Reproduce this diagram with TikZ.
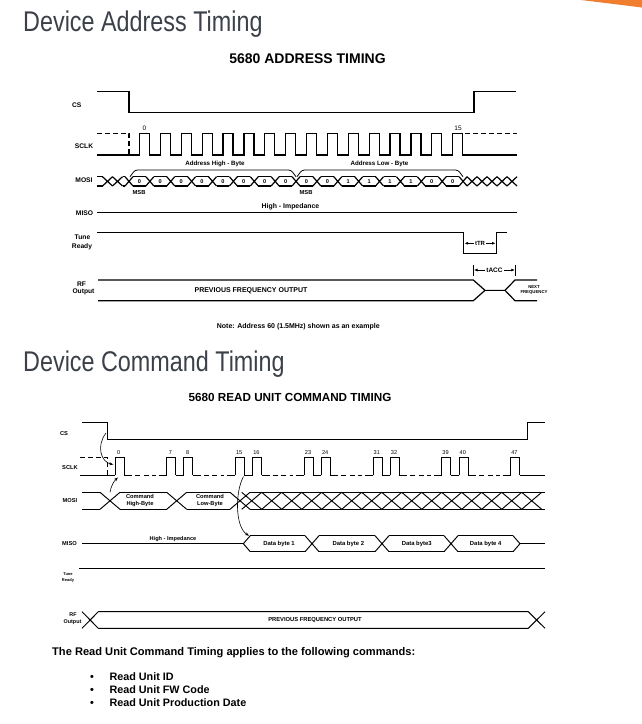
\documentclass[tikz,border=0pt]{standalone}
\usepackage{fontspec}
\setmainfont{Liberation Sans}
\newfontfamily\titlefont[FakeStretch=0.82]{Liberation Sans}
\usetikzlibrary{arrows.meta}
\definecolor{titlegray}{HTML}{3C4149}
\definecolor{accent}{HTML}{F07E2E}
\newcommand\fsz[1]{\fontsize{#1}{#1}\selectfont}
\begin{document}
\begin{tikzpicture}[x=1pt,y=-1pt,
  sig/.style={line width=1.2pt},
  sigb/.style={line width=0.95pt},
  dsh/.style={dash pattern=on 5pt off 3pt},
  txt/.style={inner sep=0pt},
  title/.style={txt, anchor=base west, text=titlegray, font=\titlefont\fsz{28.5}},
  lblA/.style={txt, font=\bfseries\fsz{6.7}},
  lblB/.style={txt, font=\bfseries\fsz{5.7}},
  tip/.style={-{Latex[length=3.5pt,width=3pt]}},
  ctip/.style={-{Stealth[length=4pt,width=3pt]}, line width=0.6pt},
]
\useasboundingbox (0,0) rectangle (642,724);
\fill[accent] (581,0) -- (642,0) -- (642,7.5) -- cycle;

% ================= TOP =================
\node[title] (t1) at (23,31.7) {Device Address Timing};
\node[txt, anchor=base, font=\bfseries\fsz{14}] (t1s) at (307.5,63.3) {5680 ADDRESS TIMING};

\node[lblA] (csA) at (76.7,105) {CS};
\node[lblA] (sclkA) at (84,145.7) {SCLK};
\node[lblA] (mosiA) at (84,180.5) {MOSI};
\node[lblA] (misoA) at (84.5,213.5) {MISO};
\node[lblA] (tuneA) at (82.5,237.5) {Tune};
\node[lblA] (readyA) at (82,246.7) {Ready};
\node[lblA] (rfA) at (81.5,284.5) {RF};
\node[lblA] (outA) at (83.5,292) {Output};

% CS
\draw[sig] (97,91.7) -- (129,91.7) -- (129,112.3) -- (474,112.3) -- (474,91.7) -- (516,91.7);
% SCLK
\draw[sig, dsh] (97,133.3) -- (129,133.3) -- (129,155);
\draw[sig] (97,155) \foreach \k [evaluate=\k as \p using 139.5+20.88*\k] in {0,...,15} { -- (\p,155) -- (\p,133.3) -- ({\p+10},133.3) -- ({\p+10},155) } -- (517,155);
\draw[sig, dsh] (465,133.3) -- (517,133.3);
\node[txt, font=\fsz{6.5}] (n0) at (144.5,128.3) {0};
\node[txt, font=\fsz{6.5}] (n15) at (458,128.3) {15};

% MOSI
\foreach \c in {107.5,117.5,472,482,492,502,512}{
  \draw[sig] ({\c-5},176.7) -- ({\c+5},186) ({\c-5},186) -- ({\c+5},176.7);}
\draw[sig] (97,176.7) -- (102.5,176.7) (97,186) -- (102.5,186)
           (122.5,176.7) -- (125,176.7) (122.5,186) -- (125,186);
\foreach \k in {0,...,16}{
  \pgfmathsetmacro\t{129+20.88*\k}
  \draw[sig] ({\t-4},176.7) -- ({\t+4},186) ({\t-4},186) -- ({\t+4},176.7);}
\foreach \k in {0,...,15}{
  \pgfmathsetmacro\a{129+20.88*\k+4}
  \pgfmathsetmacro\b{129+20.88*(\k+1)-4}
  \draw[sig] (\a,176.7) -- (\b,176.7) (\a,186) -- (\b,186);}
\foreach \k/\d in {0/0,1/0,2/0,3/0,4/0,5/0,6/0,7/0,8/0,9/0,10/1,11/1,12/1,13/1,14/0,15/0}{
  \node[txt, font=\bfseries\fsz{5.6}] (dg\k) at ({139.4+20.88*\k},181.5) {\d};}
\node[txt, font=\bfseries\fsz{5.8}] (msb1) at (139,192.3) {MSB};
\node[txt, font=\bfseries\fsz{5.8}] (msb2) at (306,192.3) {MSB};
\draw[line width=0.8pt, rounded corners=2.5pt] (130,176.7) -- (135,170) -- (291,170) -- (296,176.7);
\draw[line width=0.8pt, rounded corners=2.5pt] (297,176.7) -- (302,170) -- (458,170) -- (463,176.7);
\node[txt, font=\bfseries\fsz{6.2}] (ahb) at (215,164) {Address High - Byte};
\node[txt, font=\bfseries\fsz{6.2}] (alb) at (379.5,164) {Address Low - Byte};

% MISO
\draw[sig] (97,212.3) -- (517,212.3);
\node[txt, font=\bfseries\fsz{6.9}] (hiA) at (290.5,206.5) {High - Impedance};

% Tune Ready
\draw[sig] (97,232.7) -- (463.3,232.7) -- (463.3,253.3) -- (496.7,253.3) -- (496.7,232.7) -- (506.7,232.7);
\node[txt, font=\bfseries\fsz{6}] (ttr) at (480,243.3) {tTR};
\coordinate (trL) at (464.5,243.3);
\coordinate (trR) at (495.5,243.3);
\draw[tip, line width=0.8pt] (ttr.west) ++(-1,0) -- (trL);
\draw[tip, line width=0.8pt] (ttr.east) ++(1,0) -- (trR);

% tACC
\draw[line width=0.9pt] (473.3,264.5) -- (473.3,275.5) (515.5,264.5) -- (515.5,275.5);
\node[txt, font=\bfseries\fsz{6.5}] (tacc) at (494.5,270) {tACC};
\coordinate (acL) at (474,270);
\coordinate (acR) at (514.8,270);
\draw[tip, line width=0.8pt] (tacc.west) ++(-1.5,0) -- (acL);
\draw[tip, line width=0.8pt] (tacc.east) ++(1.5,0) -- (acR);

% RF Output
\draw[sig] (98,280) -- (473.3,280) -- (485,290.35) -- (505,290.35) -- (515,280) -- (537,280);
\draw[sig] (98,300.7) -- (473.3,300.7) -- (485,290.35);
\draw[sig] (505,290.35) -- (515,300.7) -- (537,300.7);
\node[txt, font=\bfseries\fsz{7}] (pfoA) at (251,290.3) {PREVIOUS FREQUENCY OUTPUT};
\node[txt, font=\bfseries\fsz{4.3}] (nxt) at (534,286.8) {NEXT};
\node[txt, font=\bfseries\fsz{4.3}] (nfq) at (534,292.8) {FREQUENCY};

\node[txt, font=\bfseries\fsz{7}] (note) at (298.3,326.5) {Note: Address 60 (1.5MHz) shown as an example};

% ================= BOTTOM =================
\node[title] (t2) at (23,371.7) {Device Command Timing};
\node[txt, anchor=base, font=\bfseries\fsz{11.7}] (t2s) at (290,401.7) {5680 READ UNIT COMMAND TIMING};

\node[lblB] (csB) at (64,434) {CS};
\node[lblB] (sclkB) at (70,467.3) {SCLK};
\node[lblB] (mosiB) at (70,500.5) {MOSI};
\node[lblB] (misoB) at (69.5,543.5) {MISO};
\node[txt, font=\bfseries\fsz{4}] (tuneB) at (68,574.5) {Tune};
\node[txt, font=\bfseries\fsz{4}] (readyB) at (68,580.5) {Ready};
\node[txt, font=\bfseries\fsz{5.4}] (rfB) at (73,615) {RF};
\node[txt, font=\bfseries\fsz{5.4}] (outB) at (72.5,621.7) {Output};

% CS
\draw[sigb] (82,422.3) -- (107.3,422.3) -- (107.3,439.3) -- (527.7,439.3) -- (527.7,422.3) -- (545,422.3);

% SCLK
\draw[sigb, dsh] (80,457.3) -- (107.3,457.3) -- (107.3,475.3);
\draw[sigb] (80,475.3) -- (115,475.3);
\foreach \n/\r in {0/115,7/166.6,8/183.8,15/235.4,16/252.6,23/304.2,24/321.4,31/373,32/390.2,39/441.8,40/459,47/510.6}{
  \draw[sigb] (\r,475.3) -- (\r,457.3) -- ({\r+9},457.3) -- ({\r+9},475.3);
  \node[txt, font=\fsz{5.6}] (p\n) at ({\r+3.8},452.7) {\n};}
\foreach \a/\b in {124/166.6,192.8/235.4,261.6/304.2,330.4/373,399.2/441.8,468/510.6}{
  \draw[sigb] (\a,475.3) -- ({\a+8},475.3) ({\b-8},475.3) -- (\b,475.3);
  \draw[sigb, dash pattern=on 5pt off 3.5pt] ({\a+11},475.3) -- ({\b-11},475.3);}
\foreach \a/\b in {175.6/183.8,244.4/252.6,313.2/321.4,382/390.2,450.8/459}{
  \draw[sigb] (\a,475.3) -- (\b,475.3);}
\draw[sigb] (519.6,475.3) -- (545,475.3);

% MOSI
\foreach \c in {110,176.7,240}{
  \draw[sigb] ({\c-10},492.3) -- ({\c+10},509.3) ({\c-10},509.3) -- ({\c+10},492.3);}
\draw[sigb] (82,492.3) -- (100,492.3) (82,509.3) -- (100,509.3)
            (120,492.3) -- (166.7,492.3) (120,509.3) -- (166.7,509.3)
            (186.7,492.3) -- (230,492.3) (186.7,509.3) -- (230,509.3)
            (250,492.3) -- (545,492.3) (250,509.3) -- (545,509.3);
\foreach \k in {0,...,14}{
  \pgfmathsetmacro\v{241.7+20*\k}
  \draw[sigb] (\v,492.3) -- ({\v+20},509.3) (\v,509.3) -- ({\v+20},492.3);}
\node[txt, font=\bfseries\fsz{5.7}] (c1a) at (140,496.7) {Command};
\node[txt, font=\bfseries\fsz{5.7}] (c1b) at (140,504.5) {High-Byte};
\node[txt, font=\bfseries\fsz{5.7}] (c2a) at (210,496.7) {Command};
\node[txt, font=\bfseries\fsz{5.7}] (c2b) at (210,504.5) {Low-Byte};

% MISO
\draw[sigb] (82,543.7) -- (243.3,543.7);
\draw[sigb] (250.3,535.7) -- (243.3,543.7) -- (250.3,551.7);
\foreach \c in {312,382,451}{
  \draw[sigb] ({\c-7},535.7) -- ({\c+7},551.7) ({\c-7},551.7) -- ({\c+7},535.7);}
\draw[sigb] (250.3,535.7) -- (305,535.7) (250.3,551.7) -- (305,551.7)
            (319,535.7) -- (375,535.7) (319,551.7) -- (375,551.7)
            (389,535.7) -- (444,535.7) (389,551.7) -- (444,551.7)
            (458,535.7) -- (513,535.7) (458,551.7) -- (513,551.7);
\draw[sigb] (513,535.7) -- (520,543.7) -- (513,551.7);
\draw[sigb] (520,543.7) -- (545,543.7);
\node[txt, font=\bfseries\fsz{5.6}] (hiB) at (173,539.5) {High - Impedance};
\node[txt, font=\bfseries\fsz{5.9}] (db1) at (279,543.7) {Data byte 1};
\node[txt, font=\bfseries\fsz{5.9}] (db2) at (348.3,543.7) {Data byte 2};
\node[txt, font=\bfseries\fsz{5.9}] (db3) at (416.7,543.7) {Data byte3};
\node[txt, font=\bfseries\fsz{5.9}] (db4) at (485.7,543.7) {Data byte 4};

% Tune Ready
\draw[sigb] (79.3,568.3) -- (545,568.3);

% RF Output
\draw[sigb] (82,611.7) -- (98.3,628.3) (82,628.3) -- (98.3,611.7)
            (98.3,611.7) -- (528.3,611.7) (98.3,628.3) -- (528.3,628.3)
            (528.3,611.7) -- (545,628.3) (528.3,628.3) -- (545,611.7);
\node[txt, font=\bfseries\fsz{5.8}] (pfoB) at (315,620) {PREVIOUS FREQUENCY OUTPUT};

% curved arrows
\coordinate (csEdge) at (106,433);
\coordinate (clk0) at (113.3,464.5);
\coordinate (mosiX) at (110,492.3);
\coordinate (clk0b) at (118,477.5);
\coordinate (clk15) at (243.5,476.5);
\coordinate (db1L) at (249,535.7);
\draw[ctip] (csEdge) .. controls (96,446) and (101,462) .. (clk0);
\draw[ctip] (mosiX) .. controls (111,486) and (114,481) .. (clk0b);
\draw[ctip] (clk15) .. controls (235,492) and (235,527) .. (db1L);

% ================= TEXT =================
\node[txt, anchor=base west, font=\bfseries\fsz{11.1}] (intro) at (52,655) {The Read Unit Command Timing applies to the following commands:};
\foreach \i/\y/\s in {1/680/Read Unit ID,2/693/Read Unit FW Code,3/706/Read Unit Production Date}{
  \node[txt, anchor=base, font=\bfseries\fsz{10.8}] (b\i) at (92,\y) {•};
  \node[txt, anchor=base west, font=\bfseries\fsz{10.8}] (it\i) at (109.3,\y) {\s};}
\end{tikzpicture}
\end{document}
